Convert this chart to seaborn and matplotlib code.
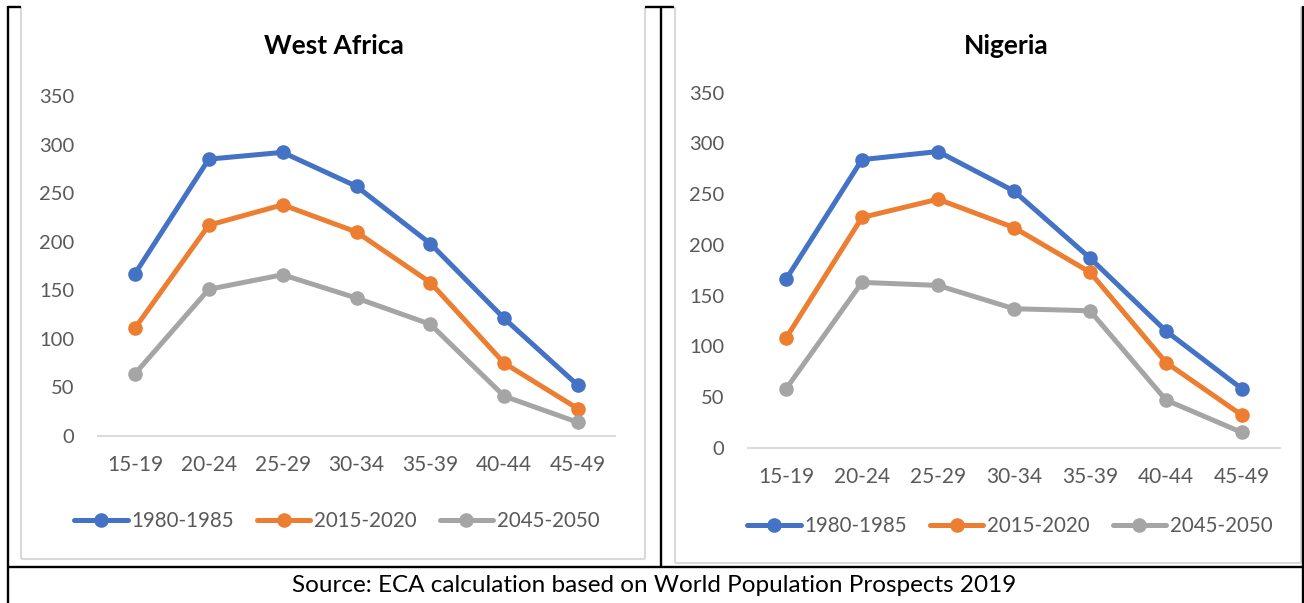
import matplotlib
matplotlib.use("Agg")
import matplotlib.pyplot as plt
from matplotlib.lines import Line2D
import pandas as pd
import seaborn as sns

# Age groups and age-specific fertility rates (births per 1,000 women)
age_groups = ["15-19", "20-24", "25-29", "30-34", "35-39", "40-44", "45-49"]
periods = ["1980-1985", "2015-2020", "2045-2050"]

west_africa_1980 = [167, 285, 292, 257, 198, 121, 52]
west_africa_2015 = [111, 217, 238, 210, 158, 75, 28]
west_africa_2045 = [64, 151, 166, 142, 115, 41, 14]

nigeria_1980 = [166, 284, 292, 253, 187, 115, 58]
nigeria_2015 = [108, 227, 245, 217, 173, 84, 32]
nigeria_2045 = [58, 163, 160, 137, 135, 47, 15]

y_ticks = [0, 50, 100, 150, 200, 250, 300, 350]
source_note = "Source: ECA calculation based on World Population Prospects 2019"

colors = ["#4472C4", "#ED7D31", "#A5A5A5"]
TICK_COLOR = "#595959"
RULE_COLOR = "#D9D9D9"


def long_table(series):
    rows = []
    for period, values in zip(periods, series):
        for age, v in zip(age_groups, values):
            rows.append({"age": age, "period": period, "rate": v})
    return pd.DataFrame(rows)


west_africa = long_table([west_africa_1980, west_africa_2015, west_africa_2045])
nigeria = long_table([nigeria_1980, nigeria_2015, nigeria_2045])

sns.set_theme(style="white")
plt.rcParams["font.family"] = ["Lato", "DejaVu Sans"]

W, H = 1304, 603
fig = plt.figure(figsize=(W / 100, H / 100), dpi=100)
fig.patch.set_facecolor("white")


def fx(x):
    return x / W


def fy(y):
    return 1 - y / H


def hline(x0, x1, y, color, lw):
    fig.add_artist(Line2D([fx(x0), fx(x1)], [fy(y), fy(y)], color=color,
                          lw=lw, transform=fig.transFigure, solid_capstyle="butt"))


def vline(x, y0, y1, color, lw):
    fig.add_artist(Line2D([fx(x), fx(x)], [fy(y0), fy(y1)], color=color,
                          lw=lw, transform=fig.transFigure, solid_capstyle="butt"))


def draw_panel(df, rect, title, title_xy, legend_xy):
    ax = fig.add_axes(rect)
    sns.lineplot(data=df, x="age", y="rate", hue="period", palette=colors,
                 marker="o", markersize=10.5, markeredgewidth=0, linewidth=3.6,
                 sort=False, ax=ax)
    ax.set_xlim(-0.5, len(age_groups) - 0.5)
    ax.set_ylim(0, 350)
    ax.set_yticks(y_ticks)
    ax.set_xlabel("")
    ax.set_ylabel("")
    for side in ["top", "right", "left"]:
        ax.spines[side].set_visible(False)
    ax.spines["bottom"].set_color(RULE_COLOR)
    ax.spines["bottom"].set_linewidth(1.4)
    ax.tick_params(axis="y", length=0, pad=17, labelsize=14.5, labelcolor=TICK_COLOR)
    ax.tick_params(axis="x", length=0, pad=14, labelsize=15, labelcolor=TICK_COLOR)
    ax.grid(False)
    ax.patch.set_alpha(0)
    handles, labels = ax.get_legend_handles_labels()
    ax.get_legend().remove()
    fig.legend(handles, labels, loc="center", bbox_to_anchor=(fx(legend_xy[0]), fy(legend_xy[1])),
               ncol=3, frameon=False, handlelength=2.6, handletextpad=0.2,
               columnspacing=1.1, fontsize=14.8, labelcolor=TICK_COLOR,
               borderaxespad=0, borderpad=0)
    fig.text(fx(title_xy[0]), fy(title_xy[1]), title, ha="center", va="center",
             fontsize=19, fontweight="bold", color="black")
    return ax


draw_panel(west_africa,
           [fx(98), fy(436), (615 - 98) / W, (436 - 96) / H],
           "West Africa", (334, 46), (337, 521))
draw_panel(nigeria,
           [fx(748), fy(447.7), (1280 - 748) / W, (447.7 - 92.7) / H],
           "Nigeria", (1006, 46), (1010, 526))

# Light frames around each chart
vline(21.5, 7, 559, RULE_COLOR, 1.5)
vline(644.5, 7, 559, RULE_COLOR, 1.5)
hline(21.5, 644.5, 559, RULE_COLOR, 1.5)
vline(674.5, 7, 563, RULE_COLOR, 1.5)
vline(1300.5, 7, 563, RULE_COLOR, 1.5)
hline(674.5, 1300.5, 563, RULE_COLOR, 1.5)

# Table rules
vline(8, 6, 603, "black", 1.7)
vline(1302.5, 6, 603, "black", 1.7)
vline(661, 6, 567, "black", 1.7)
hline(8, 1302.5, 567, "black", 1.7)
hline(7.5, 21, 7, "black", 1.7)
hline(645, 674, 7, "black", 1.7)

fig.text(fx(654), fy(586), source_note, ha="center", va="center",
         fontsize=17.5, color="black")

fig.savefig("out.png", dpi=100, facecolor="white")
